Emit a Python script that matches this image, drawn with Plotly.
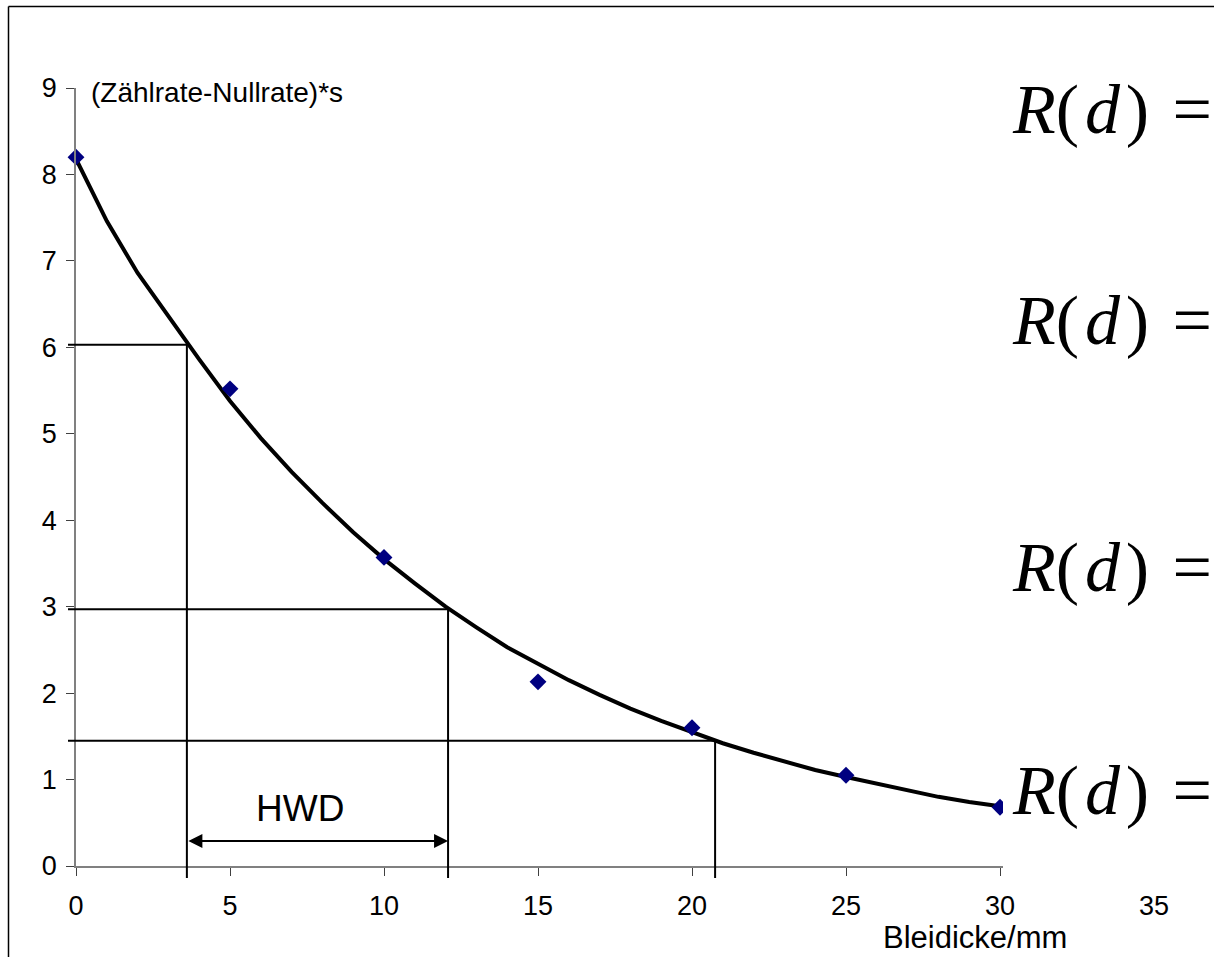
import plotly.graph_objects as go

# ---- data ----
thickness_mm = [0, 5, 10, 15, 20, 25, 30]
net_rate = [8.2, 5.52, 3.57, 2.13, 1.60, 1.05, 0.68]

fit_d = list(range(0, 31))
fit_rate = [8.18, 7.46, 6.86, 6.36, 5.86, 5.38, 4.95, 4.56, 4.20, 3.86,
            3.55, 3.27, 3.00, 2.76, 2.53, 2.34, 2.15, 1.98, 1.82, 1.68,
            1.55, 1.42, 1.31, 1.21, 1.11, 1.03, 0.95, 0.87, 0.80, 0.74, 0.69]

# half-value construction lines (rate level and matching thickness)
ref_rate = [6.03, 2.97, 1.45]
ref_thickness = [3.6, 12.08, 20.75]

x_ticks = [0, 5, 10, 15, 20, 25, 30, 35]
y_ticks = [0, 1, 2, 3, 4, 5, 6, 7, 8, 9]

XMAX, YMAX = 35, 9
W, H = 1214, 957
PX0, PY0 = 76, 866    # plot-area left / bottom in the screenshot
PW, PH = 1078, 778    # plot-area size
L = PX0
T = PY0 - PH
R = W - L - PW
B = H - T - PH


def fx(x):  # data x -> paper x
    return x / XMAX


def fy(y):  # data y -> paper y
    return y / YMAX


def px(p):  # screenshot pixel x -> paper x
    return (p - PX0) / PW


def py(p):  # screenshot pixel y -> paper y
    return (PY0 - p) / PH


fig = go.Figure()

fig.add_trace(go.Scatter(
    x=fit_d, y=fit_rate, mode="lines",
    line=dict(color="black", width=4), hoverinfo="skip"))

fig.add_trace(go.Scatter(
    x=thickness_mm, y=net_rate, mode="markers",
    marker=dict(symbol="diamond", size=13, color="#000080"),
    cliponaxis=False))

shapes = []
# outer frame of the chart (only left and top edges are visible)
shapes.append(dict(type="line", xref="paper", yref="paper",
                   x0=px(8.5), x1=px(8.5), y0=py(957), y1=py(6.5),
                   line=dict(color="black", width=1.5), layer="below"))
shapes.append(dict(type="line", xref="paper", yref="paper",
                   x0=px(8.5), x1=px(1214), y0=py(6.5), y1=py(6.5),
                   line=dict(color="black", width=1.5), layer="below"))

tick_left = px(68)
below_axis = py(878)
for yv, xv in zip(ref_rate, ref_thickness):
    shapes.append(dict(type="line", xref="paper", yref="paper",
                       x0=tick_left, x1=fx(xv), y0=fy(yv), y1=fy(yv),
                       line=dict(color="black", width=2)))
    shapes.append(dict(type="line", xref="paper", yref="paper",
                       x0=fx(xv), x1=fx(xv), y0=fy(yv), y1=below_axis,
                       line=dict(color="black", width=2)))

# white background of the pasted formula images (covers the right end of the axis)
shapes.append(dict(type="rect", xref="paper", yref="paper",
                   x0=px(1003), x1=px(1214), y0=py(876), y1=py(730),
                   line=dict(width=0), fillcolor="white", layer="above"))

annotations = []
# HWD double arrow
annotations.append(dict(x=ref_thickness[1], y=0.29, ax=ref_thickness[0], ay=0.29,
                        xref="x", yref="y", axref="x", ayref="y",
                        text="", showarrow=True, arrowhead=2, startarrowhead=2,
                        arrowside="end+start", arrowsize=1.4, startarrowsize=1.4,
                        arrowwidth=2, arrowcolor="black", standoff=0, startstandoff=0))
annotations.append(dict(x=7.27, y=0.66, xref="x", yref="y", text="HWD",
                        showarrow=False, font=dict(family="Liberation Sans, Arial", size=37, color="black")))
annotations.append(dict(x=px(89), y=py(92), xref="paper", yref="paper",
                        text="(Zählrate-Nullrate)*s", xanchor="left", yanchor="middle",
                        showarrow=False, font=dict(family="Liberation Sans, Arial", size=28, color="black")))
annotations.append(dict(x=px(975), y=py(937), xref="paper", yref="paper",
                        text="Bleidicke/mm", xanchor="center", yanchor="middle",
                        showarrow=False, font=dict(family="Liberation Sans, Arial", size=31, color="black")))

formula = "<i>R</i>(\u200a<i>d</i>\u200a)\u2004="
for base in [137, 348, 595, 818]:
    annotations.append(dict(x=px(1010), y=py(base - 28), xref="paper", yref="paper",
                            text=formula, xanchor="left", yanchor="middle",
                            showarrow=False,
                            font=dict(family="Liberation Serif, Times New Roman", size=70, color="black")))

fig.update_layout(
    width=W, height=H,
    margin=dict(l=L, r=R, t=T, b=B, autoexpand=False),
    paper_bgcolor="white", plot_bgcolor="white",
    showlegend=False,
    shapes=shapes, annotations=annotations,
    xaxis=dict(range=[0, XMAX], tickvals=x_ticks, ticktext=[str(v) for v in x_ticks],
               showgrid=False, zeroline=False, showline=True, linecolor="#808080", linewidth=1.5,
               ticks="outside", ticklen=8, tickcolor="#404040", tickwidth=1,
               ticklabelstandoff=7,
               tickfont=dict(family="Liberation Sans, Arial", size=27, color="black"),
               automargin=False),
    yaxis=dict(range=[0, YMAX], tickvals=y_ticks, ticktext=[str(v) for v in y_ticks],
               showgrid=False, zeroline=False, showline=True, linecolor="#808080", linewidth=1.5,
               ticks="outside", ticklen=8, tickcolor="#404040", tickwidth=1,
               ticklabelstandoff=4,
               tickfont=dict(family="Liberation Sans, Arial", size=27, color="black"),
               automargin=False),
)

# the page's default 8px body margin would shift the chart and add scrollbars
fig.write_html("out.html",
               config={"displayModeBar": False},
               post_script="document.body.style.margin='0px';document.body.style.overflow='hidden';")
